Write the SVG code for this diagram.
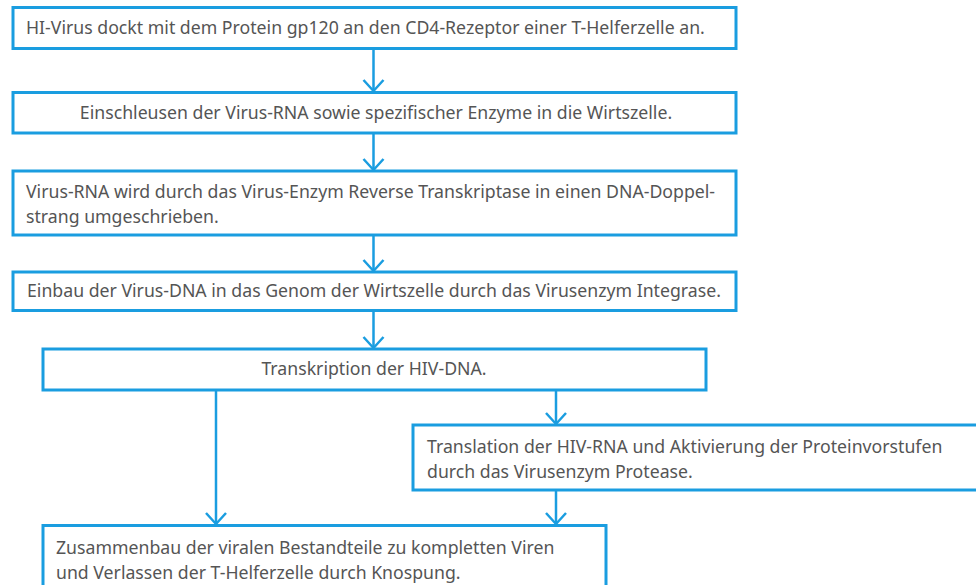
<svg xmlns="http://www.w3.org/2000/svg" width="976" height="585" viewBox="0 0 976 585">
<style>
.box{fill:#fff;stroke:#1a9de0;stroke-width:3}
.con{fill:none;stroke:#1a9de0;stroke-width:2.5}
text{font-family:"Noto Sans","Open Sans",sans-serif;font-size:17.7px;fill:#555555}
.c{text-anchor:middle}
</style>
<defs>
<marker id="arr" markerUnits="userSpaceOnUse" markerWidth="16" markerHeight="26" refX="13" refY="12" viewBox="0 0 16 24" orient="auto">
<path d="M2,2 L13,12 L2,22" fill="none" stroke="#1a9de0" stroke-width="2.5"/>
</marker>
</defs>
<rect width="976" height="585" fill="#fff"/>
<g id="connectors">
<line class="con" x1="373.5" y1="49" x2="373.5" y2="91" marker-end="url(#arr)"/>
<line class="con" x1="373.5" y1="133" x2="373.5" y2="170" marker-end="url(#arr)"/>
<line class="con" x1="373.5" y1="236" x2="373.5" y2="271" marker-end="url(#arr)"/>
<line class="con" x1="373.5" y1="311" x2="373.5" y2="348" marker-end="url(#arr)"/>
<line class="con" x1="216" y1="390" x2="216" y2="524" marker-end="url(#arr)"/>
<line class="con" x1="556" y1="390" x2="556" y2="424" marker-end="url(#arr)"/>
<line class="con" x1="556" y1="490" x2="556" y2="524" marker-end="url(#arr)"/>
</g>
<g id="n1"><rect class="box" x="13" y="7.5" width="723" height="41"/>
<text x="26" y="34">HI-Virus dockt mit dem Protein gp120 an den CD4-Rezeptor einer T-Helferzelle an.</text></g>
<g id="n2"><rect class="box" x="13" y="92.5" width="723" height="40.5"/>
<text class="c" x="376" y="119">Einschleusen der Virus-RNA sowie spezifischer Enzyme in die Wirtszelle.</text></g>
<g id="n3"><rect class="box" x="13" y="171" width="723" height="64"/>
<text x="26" y="198">Virus-RNA wird durch das Virus-Enzym Reverse Transkriptase in einen DNA-Doppel-</text>
<text x="26" y="223">strang umgeschrieben.</text></g>
<g id="n4"><rect class="box" x="13" y="272" width="723" height="38.5"/>
<text x="27" y="297">Einbau der Virus-DNA in das Genom der Wirtszelle durch das Virusenzym Integrase.</text></g>
<g id="n5"><rect class="box" x="43" y="349" width="663" height="41"/>
<text class="c" x="374" y="375">Transkription der HIV-DNA.</text></g>
<g id="n6"><rect class="box" x="413" y="425" width="568" height="65"/>
<text x="427" y="453">Translation der HIV-RNA und Aktivierung der Proteinvorstufen</text>
<text x="427" y="478">durch das Virusenzym Protease.</text></g>
<g id="n7"><rect class="box" x="43" y="525.5" width="563" height="70"/>
<text x="56" y="554">Zusammenbau der viralen Bestandteile zu kompletten Viren</text>
<text x="56" y="579">und Verlassen der T-Helferzelle durch Knospung.</text></g>
</svg>
